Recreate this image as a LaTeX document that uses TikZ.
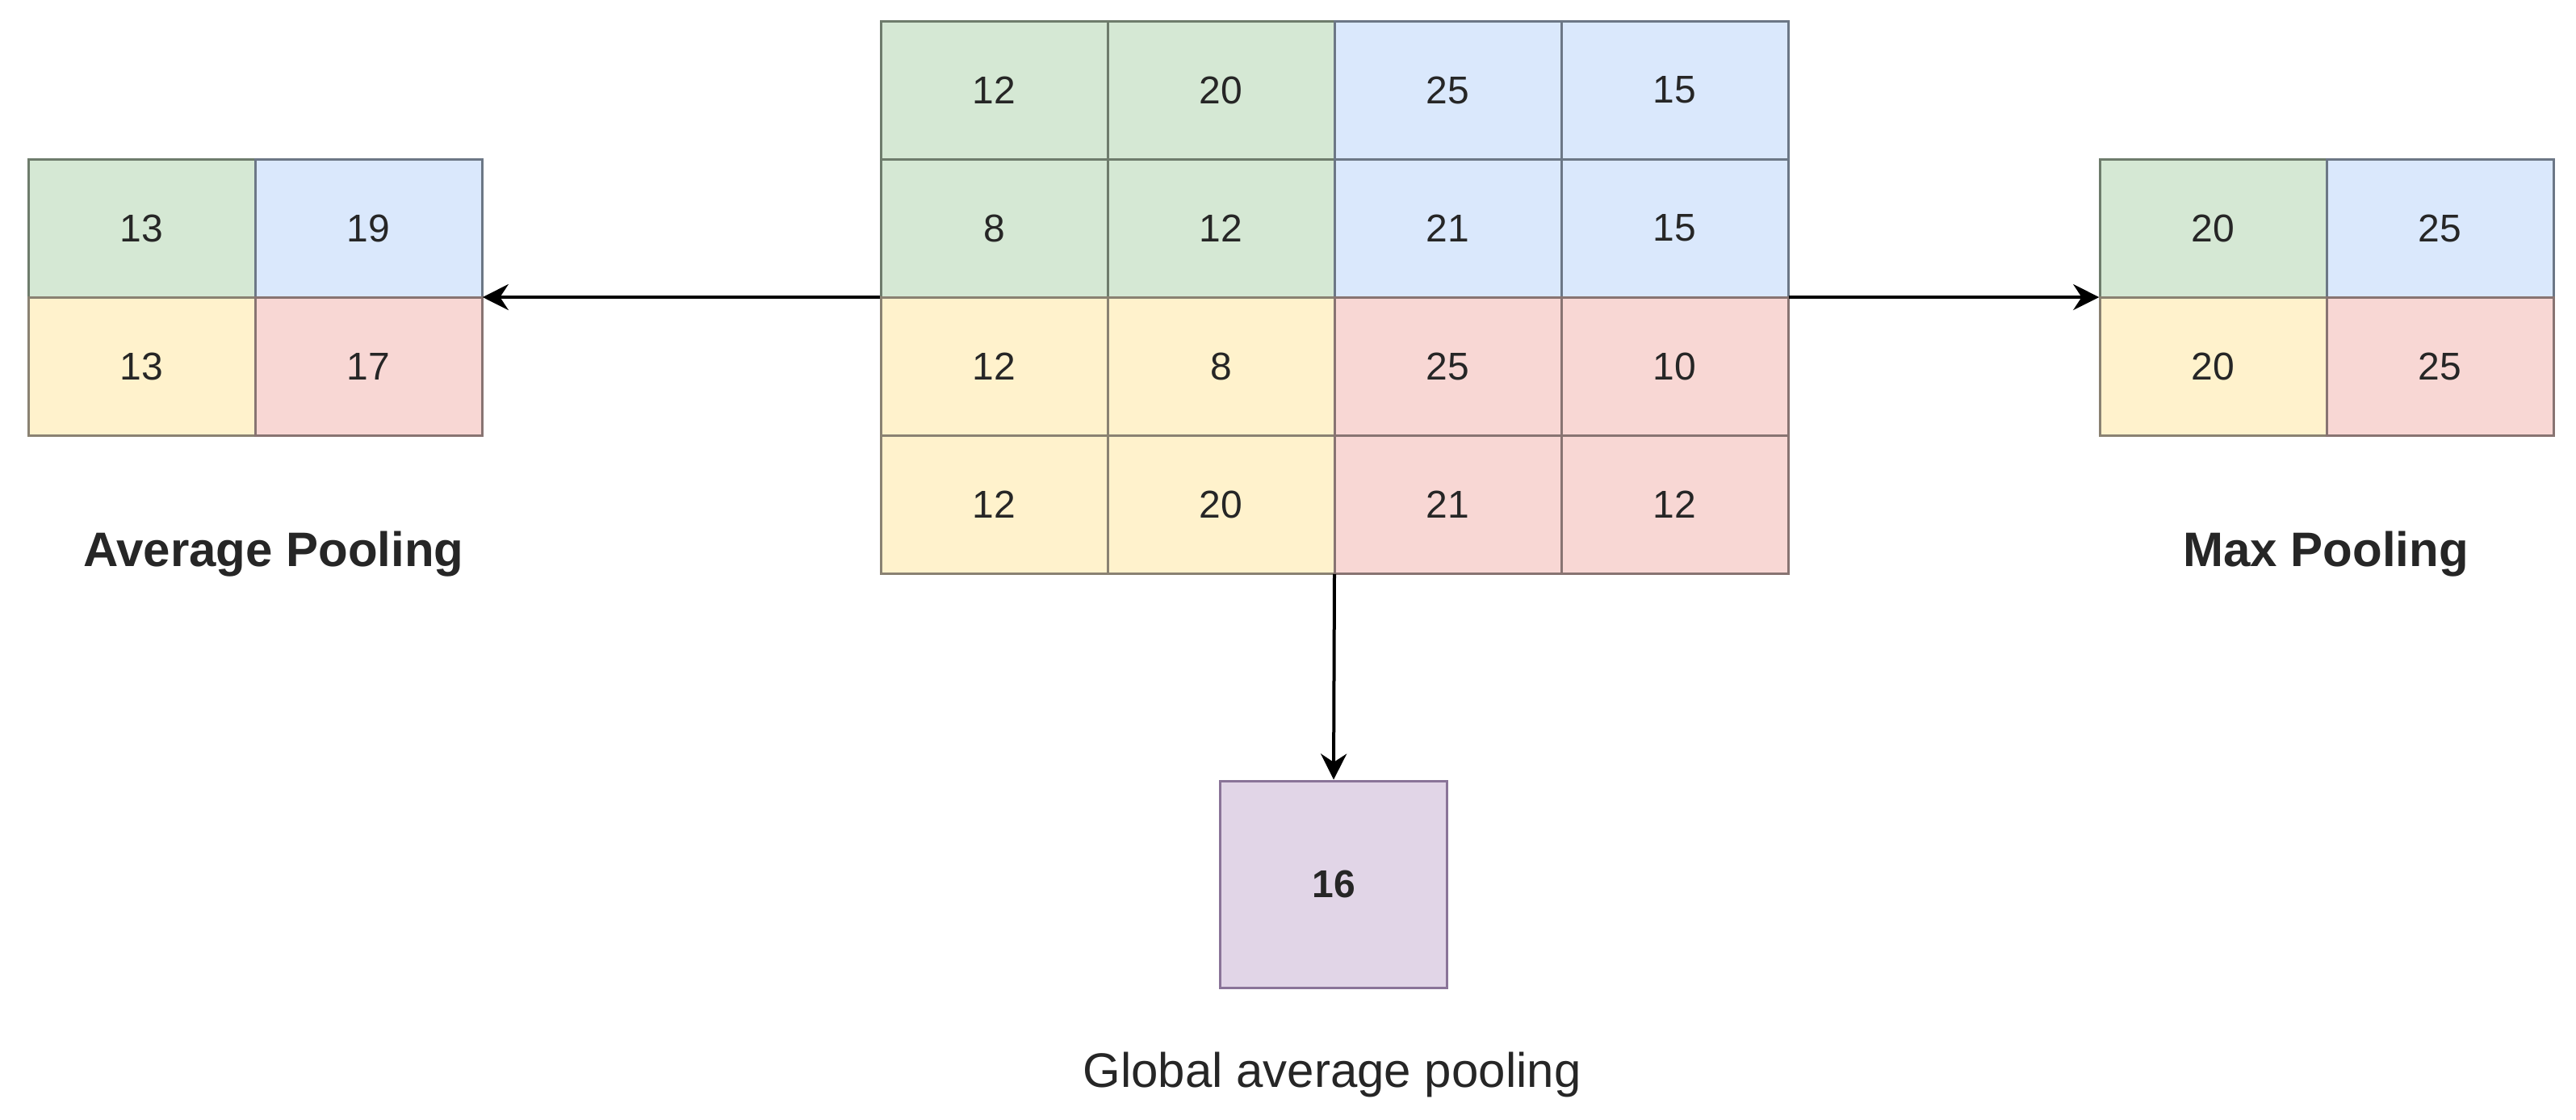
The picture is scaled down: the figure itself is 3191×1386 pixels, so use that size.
\documentclass[tikz,border=0pt]{standalone}
\usepackage{fontspec}
\setmainfont{Liberation Sans}
\usetikzlibrary{arrows.meta}
\definecolor{gfill}{HTML}{D5E8D4}\definecolor{gline}{HTML}{6E7C6C}
\definecolor{bfill}{HTML}{DAE8FC}\definecolor{bline}{HTML}{6C7786}
\definecolor{yfill}{HTML}{FFF2CC}\definecolor{yline}{HTML}{8A8272}
\definecolor{rfill}{HTML}{F8D7D4}\definecolor{rline}{HTML}{887472}
\definecolor{pfill}{HTML}{E1D5E7}\definecolor{pline}{HTML}{8A7498}
\tikzset{
  cell/.style={draw, line width=0.75pt, minimum width=70.25pt, minimum height=42.75pt, inner sep=0pt,
    font=\fontsize{12}{14}\selectfont, text=black!85},
  gc/.style={cell, fill=gfill, draw=gline},
  bc/.style={cell, fill=bfill, draw=bline},
  yc/.style={cell, fill=yfill, draw=yline},
  rc/.style={cell, fill=rfill, draw=rline},
  frame/.style={inner sep=0pt},
  lbl/.style={font=\fontsize{15}{18}\selectfont\bfseries, text=black!85},
  lblr/.style={font=\fontsize{15}{18}\selectfont, text=black!85},
  arr/.style={-{Stealth[length=8pt,width=8pt]}, line width=1pt, black}
}
\begin{document}
\begin{tikzpicture}[x=0.25pt,y=-0.25pt]
\useasboundingbox (0,0) rectangle (3191,1386);
% main grid
\node[gc] (m11) at (1231.5,111.5) {12};
\node[gc] (m12) at (1512.5,111.5) {20};
\node[bc] (m13) at (1793.5,111.5) {25};
\node[bc] (m14) at (2074.5,111.5) {15};
\node[gc] (m21) at (1231.5,282.5) {8};
\node[gc] (m22) at (1512.5,282.5) {12};
\node[bc] (m23) at (1793.5,282.5) {21};
\node[bc] (m24) at (2074.5,282.5) {15};
\node[yc] (m31) at (1231.5,453.5) {12};
\node[yc] (m32) at (1512.5,453.5) {8};
\node[rc] (m33) at (1793.5,453.5) {25};
\node[rc] (m34) at (2074.5,453.5) {10};
\node[yc] (m41) at (1231.5,624.5) {12};
\node[yc] (m42) at (1512.5,624.5) {20};
\node[rc] (m43) at (1793.5,624.5) {21};
\node[rc] (m44) at (2074.5,624.5) {12};
\node[frame, minimum width=281pt, minimum height=171pt] (main) at (1653,368) {};
% average pooling grid
\node[gc] (a11) at (175.5,282.5) {13};
\node[bc] (a12) at (456.5,282.5) {19};
\node[yc] (a21) at (175.5,453.5) {13};
\node[rc] (a22) at (456.5,453.5) {17};
\node[frame, minimum width=140.5pt, minimum height=85.5pt] (avg) at (316,368) {};
% max pooling grid
\node[gc] (x11) at (2741.5,282.5) {20};
\node[bc] (x12) at (3022.5,282.5) {25};
\node[yc] (x21) at (2741.5,453.5) {20};
\node[rc] (x22) at (3022.5,453.5) {25};
\node[frame, minimum width=140.5pt, minimum height=85.5pt] (max) at (2882,368) {};
% global average pooling
\node[cell, fill=pfill, draw=pline, minimum height=64pt, font=\fontsize{12}{14}\selectfont\bfseries] (gap) at (1652,1095) {16};
% labels
\node[lbl] (lavg) at (339,686) {Average Pooling};
\node[lbl] (lmax) at (2881,686) {Max Pooling};
\node[lblr] (lgap) at (1650,1331) {Global average pooling};
% arrows
\draw[arr] (main.west) -- (avg.east);
\draw[arr] (main.east) -- (max.west);
\draw[arr] (main.south) -- (gap.north);
\end{tikzpicture}
\end{document}
